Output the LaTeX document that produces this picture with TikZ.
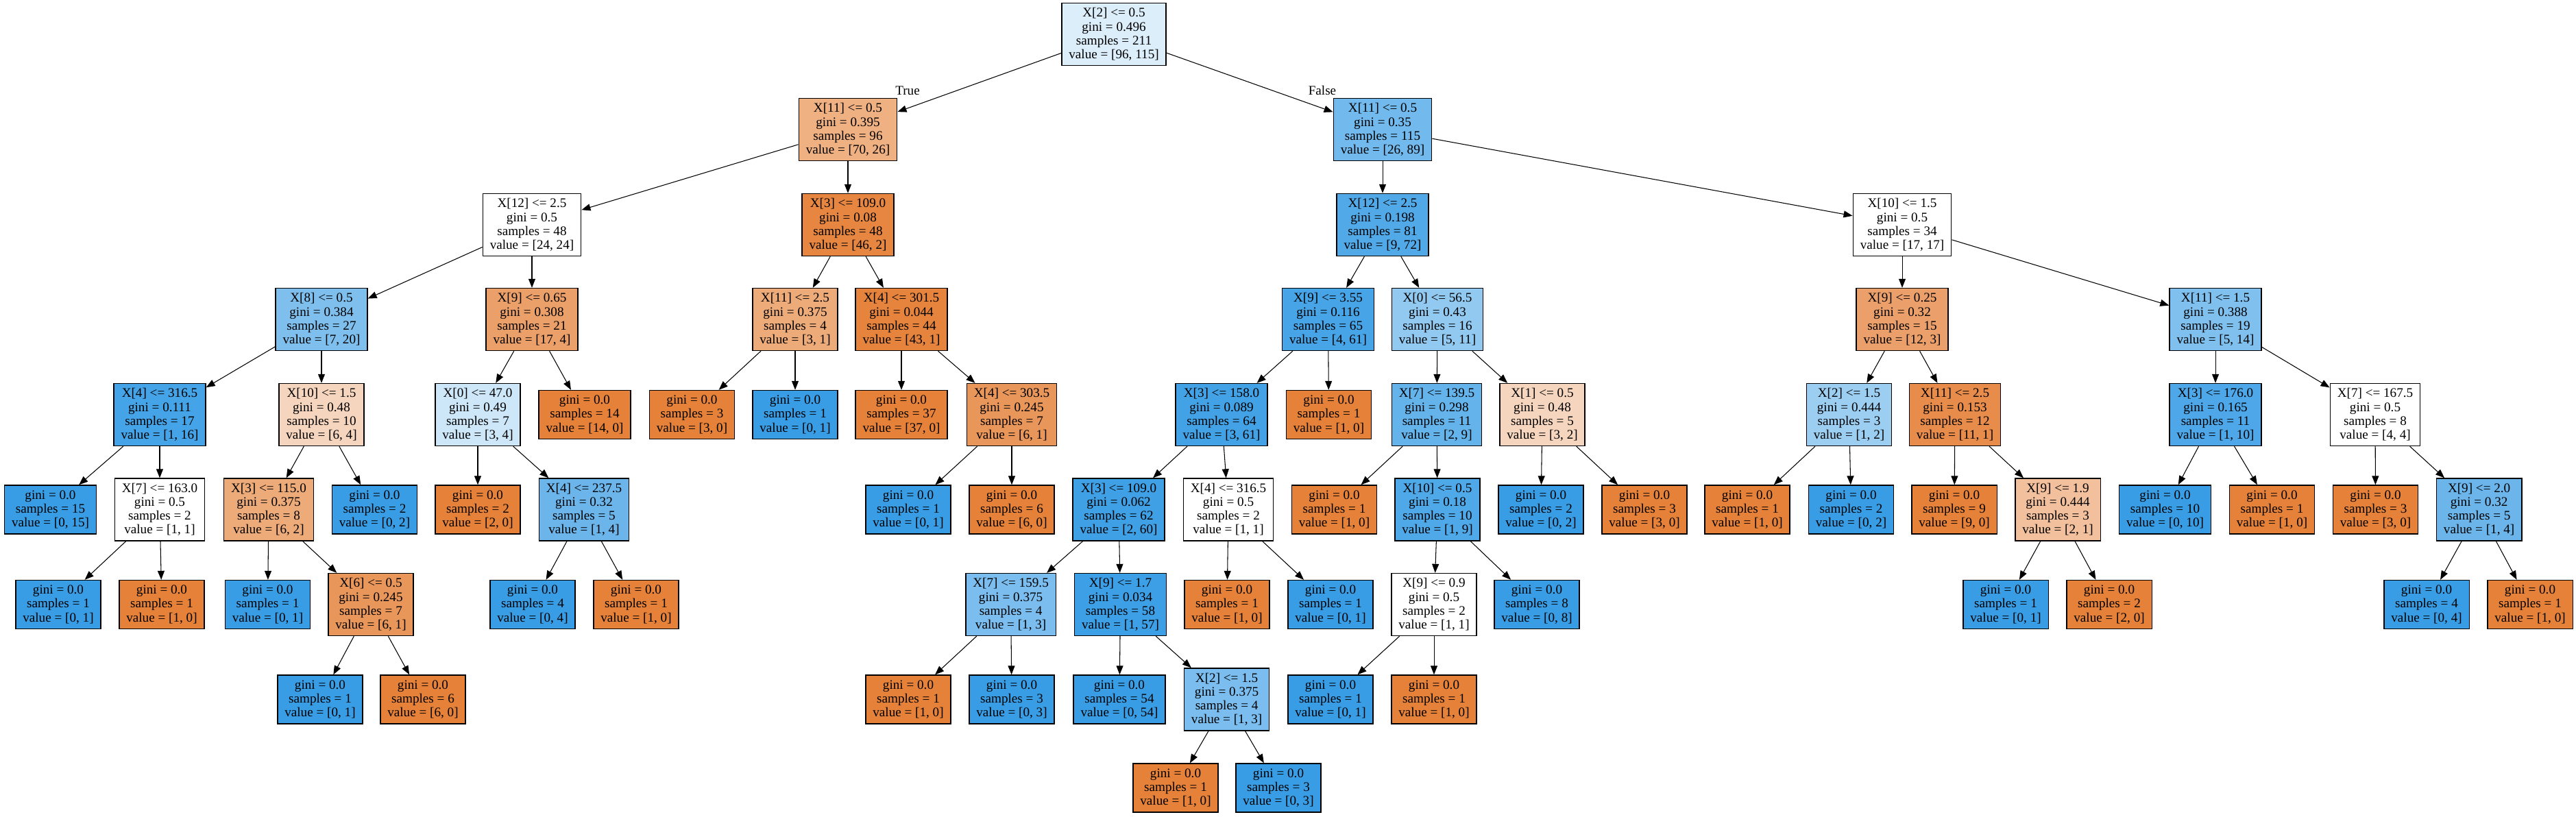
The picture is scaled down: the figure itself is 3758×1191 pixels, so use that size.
\documentclass[tikz,border=0pt]{standalone}
\usepackage{fontspec}
\setmainfont{Liberation Serif}
\usetikzlibrary{arrows.meta}
\definecolor{cO}{RGB}{229,129,57}
\definecolor{cB}{RGB}{57,157,229}
\tikzset{
  split/.style={draw, line width=0.8pt, align=center, inner xsep=0.21cm, inner ysep=0pt, minimum height=1.82cm, font=\fontsize{10.9}{11.5}\selectfont},
  leaf/.style={split, minimum height=1.42cm},
  edge/.style={line width=0.6pt, -{Triangle[length=0.26cm,width=0.2cm]}},
  side/.style={font=\fontsize{10.9}{11.5}\selectfont, inner sep=0pt}
}
\begin{document}
\begin{tikzpicture}[x=0.02cm,y=-0.02cm]
\useasboundingbox (0,0) rectangle (3758,1191);
\node[split,fill=cB!17] (n0) at (1625,50) {X[2] <= 0.5\\gini = 0.496\\samples = 211\\value = [96, 115]};
\node[split,fill=cO!63] (n1) at (1237,189) {X[11] <= 0.5\\gini = 0.395\\samples = 96\\value = [70, 26]};
\node[split,fill=white] (n2) at (776,328) {X[12] <= 2.5\\gini = 0.5\\samples = 48\\value = [24, 24]};
\node[split,fill=cB!65] (n3) at (469,466) {X[8] <= 0.5\\gini = 0.384\\samples = 27\\value = [7, 20]};
\node[split,fill=cB!94] (n4) at (233,605) {X[4] <= 316.5\\gini = 0.111\\samples = 17\\value = [1, 16]};
\node[leaf,fill=cB] (n5) at (73.5,743.5) {gini = 0.0\\samples = 15\\value = [0, 15]};
\node[split,fill=white] (n6) at (233,743.5) {X[7] <= 163.0\\gini = 0.5\\samples = 2\\value = [1, 1]};
\node[leaf,fill=cB] (n7) at (85,882) {gini = 0.0\\samples = 1\\value = [0, 1]};
\node[leaf,fill=cO] (n8) at (236,882) {gini = 0.0\\samples = 1\\value = [1, 0]};
\node[split,fill=cO!33] (n9) at (469,605) {X[10] <= 1.5\\gini = 0.48\\samples = 10\\value = [6, 4]};
\node[split,fill=cO!67] (n10) at (392,743.5) {X[3] <= 115.0\\gini = 0.375\\samples = 8\\value = [6, 2]};
\node[leaf,fill=cB] (n11) at (390.5,882) {gini = 0.0\\samples = 1\\value = [0, 1]};
\node[split,fill=cO!83] (n12) at (541,882) {X[6] <= 0.5\\gini = 0.245\\samples = 7\\value = [6, 1]};
\node[leaf,fill=cB] (n13) at (467,1020.5) {gini = 0.0\\samples = 1\\value = [0, 1]};
\node[leaf,fill=cO] (n14) at (617,1020.5) {gini = 0.0\\samples = 6\\value = [6, 0]};
\node[leaf,fill=cB] (n15) at (546.5,743.5) {gini = 0.0\\samples = 2\\value = [0, 2]};
\node[split,fill=cO!76] (n16) at (776,466) {X[9] <= 0.65\\gini = 0.308\\samples = 21\\value = [17, 4]};
\node[split,fill=cB!25] (n17) at (697,605) {X[0] <= 47.0\\gini = 0.49\\samples = 7\\value = [3, 4]};
\node[leaf,fill=cO] (n18) at (697,743.5) {gini = 0.0\\samples = 2\\value = [2, 0]};
\node[split,fill=cB!75] (n19) at (852,743.5) {X[4] <= 237.5\\gini = 0.32\\samples = 5\\value = [1, 4]};
\node[leaf,fill=cB] (n20) at (777,882) {gini = 0.0\\samples = 4\\value = [0, 4]};
\node[leaf,fill=cO] (n21) at (928,882) {gini = 0.0\\samples = 1\\value = [1, 0]};
\node[leaf,fill=cO] (n22) at (853,605) {gini = 0.0\\samples = 14\\value = [14, 0]};
\node[split,fill=cO!96] (n23) at (1237,328) {X[3] <= 109.0\\gini = 0.08\\samples = 48\\value = [46, 2]};
\node[split,fill=cO!67] (n24) at (1160,466) {X[11] <= 2.5\\gini = 0.375\\samples = 4\\value = [3, 1]};
\node[leaf,fill=cO] (n25) at (1009.5,605) {gini = 0.0\\samples = 3\\value = [3, 0]};
\node[leaf,fill=cB] (n26) at (1160,605) {gini = 0.0\\samples = 1\\value = [0, 1]};
\node[split,fill=cO!98] (n27) at (1315,466) {X[4] <= 301.5\\gini = 0.044\\samples = 44\\value = [43, 1]};
\node[leaf,fill=cO] (n28) at (1315,605) {gini = 0.0\\samples = 37\\value = [37, 0]};
\node[split,fill=cO!83] (n29) at (1476,605) {X[4] <= 303.5\\gini = 0.245\\samples = 7\\value = [6, 1]};
\node[leaf,fill=cB] (n30) at (1325,743.5) {gini = 0.0\\samples = 1\\value = [0, 1]};
\node[leaf,fill=cO] (n31) at (1476,743.5) {gini = 0.0\\samples = 6\\value = [6, 0]};
\node[split,fill=cB!71] (n32) at (2017,189) {X[11] <= 0.5\\gini = 0.35\\samples = 115\\value = [26, 89]};
\node[split,fill=cB!88] (n33) at (2017,328) {X[12] <= 2.5\\gini = 0.198\\samples = 81\\value = [9, 72]};
\node[split,fill=cB!93] (n34) at (1937.5,466) {X[9] <= 3.55\\gini = 0.116\\samples = 65\\value = [4, 61]};
\node[split,fill=cB!95] (n35) at (1782,605) {X[3] <= 158.0\\gini = 0.089\\samples = 64\\value = [3, 61]};
\node[split,fill=cB!97] (n36) at (1632,743.5) {X[3] <= 109.0\\gini = 0.062\\samples = 62\\value = [2, 60]};
\node[split,fill=cB!67] (n37) at (1474.6,882) {X[7] <= 159.5\\gini = 0.375\\samples = 4\\value = [1, 3]};
\node[leaf,fill=cO] (n38) at (1325,1020.5) {gini = 0.0\\samples = 1\\value = [1, 0]};
\node[leaf,fill=cB] (n39) at (1476,1020.5) {gini = 0.0\\samples = 3\\value = [0, 3]};
\node[split,fill=cB!98] (n40) at (1634.5,882) {X[9] <= 1.7\\gini = 0.034\\samples = 58\\value = [1, 57]};
\node[leaf,fill=cB] (n41) at (1633,1020.5) {gini = 0.0\\samples = 54\\value = [0, 54]};
\node[split,fill=cB!67] (n42) at (1789.6,1020.5) {X[2] <= 1.5\\gini = 0.375\\samples = 4\\value = [1, 3]};
\node[leaf,fill=cO] (n43) at (1715,1149.5) {gini = 0.0\\samples = 1\\value = [1, 0]};
\node[leaf,fill=cB] (n44) at (1865,1149.5) {gini = 0.0\\samples = 3\\value = [0, 3]};
\node[split,fill=white] (n45) at (1792,743.5) {X[4] <= 316.5\\gini = 0.5\\samples = 2\\value = [1, 1]};
\node[leaf,fill=cO] (n46) at (1790,882) {gini = 0.0\\samples = 1\\value = [1, 0]};
\node[leaf,fill=cB] (n47) at (1941,882) {gini = 0.0\\samples = 1\\value = [0, 1]};
\node[leaf,fill=cO] (n48) at (1938.5,605) {gini = 0.0\\samples = 1\\value = [1, 0]};
\node[split,fill=cB!55] (n49) at (2097,466) {X[0] <= 56.5\\gini = 0.43\\samples = 16\\value = [5, 11]};
\node[split,fill=cB!78] (n50) at (2096,605) {X[7] <= 139.5\\gini = 0.298\\samples = 11\\value = [2, 9]};
\node[leaf,fill=cO] (n51) at (1946.5,743.5) {gini = 0.0\\samples = 1\\value = [1, 0]};
\node[split,fill=cB!89] (n52) at (2097,743.5) {X[10] <= 0.5\\gini = 0.18\\samples = 10\\value = [1, 9]};
\node[split,fill=white] (n53) at (2092,882) {X[9] <= 0.9\\gini = 0.5\\samples = 2\\value = [1, 1]};
\node[leaf,fill=cB] (n54) at (1941,1020.5) {gini = 0.0\\samples = 1\\value = [0, 1]};
\node[leaf,fill=cO] (n55) at (2092,1020.5) {gini = 0.0\\samples = 1\\value = [1, 0]};
\node[leaf,fill=cB] (n56) at (2242,882) {gini = 0.0\\samples = 8\\value = [0, 8]};
\node[split,fill=cO!33] (n57) at (2250,605) {X[1] <= 0.5\\gini = 0.48\\samples = 5\\value = [3, 2]};
\node[leaf,fill=cB] (n58) at (2248,743.5) {gini = 0.0\\samples = 2\\value = [0, 2]};
\node[leaf,fill=cO] (n59) at (2399,743.5) {gini = 0.0\\samples = 3\\value = [3, 0]};
\node[split,fill=white] (n60) at (2775,328) {X[10] <= 1.5\\gini = 0.5\\samples = 34\\value = [17, 17]};
\node[split,fill=cO!75] (n61) at (2775,466) {X[9] <= 0.25\\gini = 0.32\\samples = 15\\value = [12, 3]};
\node[split,fill=cB!50] (n62) at (2697.5,605) {X[2] <= 1.5\\gini = 0.444\\samples = 3\\value = [1, 2]};
\node[leaf,fill=cO] (n63) at (2549,743.5) {gini = 0.0\\samples = 1\\value = [1, 0]};
\node[leaf,fill=cB] (n64) at (2700.5,743.5) {gini = 0.0\\samples = 2\\value = [0, 2]};
\node[split,fill=cO!91] (n65) at (2852,605) {X[11] <= 2.5\\gini = 0.153\\samples = 12\\value = [11, 1]};
\node[leaf,fill=cO] (n66) at (2851,743.5) {gini = 0.0\\samples = 9\\value = [9, 0]};
\node[split,fill=cO!50] (n67) at (3002,743.5) {X[9] <= 1.9\\gini = 0.444\\samples = 3\\value = [2, 1]};
\node[leaf,fill=cB] (n68) at (2926,882) {gini = 0.0\\samples = 1\\value = [0, 1]};
\node[leaf,fill=cO] (n69) at (3077,882) {gini = 0.0\\samples = 2\\value = [2, 0]};
\node[split,fill=cB!64] (n70) at (3232,466) {X[11] <= 1.5\\gini = 0.388\\samples = 19\\value = [5, 14]};
\node[split,fill=cB!90] (n71) at (3232,605) {X[3] <= 176.0\\gini = 0.165\\samples = 11\\value = [1, 10]};
\node[leaf,fill=cB] (n72) at (3158.5,743.5) {gini = 0.0\\samples = 10\\value = [0, 10]};
\node[leaf,fill=cO] (n73) at (3314.5,743.5) {gini = 0.0\\samples = 1\\value = [1, 0]};
\node[split,fill=white] (n74) at (3465,605) {X[7] <= 167.5\\gini = 0.5\\samples = 8\\value = [4, 4]};
\node[leaf,fill=cO] (n75) at (3465.5,743.5) {gini = 0.0\\samples = 3\\value = [3, 0]};
\node[split,fill=cB!75] (n76) at (3616.6,743.5) {X[9] <= 2.0\\gini = 0.32\\samples = 5\\value = [1, 4]};
\node[leaf,fill=cB] (n77) at (3540,882) {gini = 0.0\\samples = 4\\value = [0, 4]};
\node[leaf,fill=cO] (n78) at (3691,882) {gini = 0.0\\samples = 1\\value = [1, 0]};
\node[side] (lt) at (1324,132) {True};
\node[side] (lf) at (1929,132) {False};
\draw[edge] (n0) -- (n1); \draw[edge] (n0) -- (n32);
\draw[edge] (n1) -- (n2); \draw[edge] (n1) -- (n23);
\draw[edge] (n2) -- (n3); \draw[edge] (n2) -- (n16);
\draw[edge] (n3) -- (n4); \draw[edge] (n3) -- (n9);
\draw[edge] (n4) -- (n5); \draw[edge] (n4) -- (n6);
\draw[edge] (n6) -- (n7); \draw[edge] (n6) -- (n8);
\draw[edge] (n9) -- (n10); \draw[edge] (n9) -- (n15);
\draw[edge] (n10) -- (n11); \draw[edge] (n10) -- (n12);
\draw[edge] (n12) -- (n13); \draw[edge] (n12) -- (n14);
\draw[edge] (n16) -- (n17); \draw[edge] (n16) -- (n22);
\draw[edge] (n17) -- (n18); \draw[edge] (n17) -- (n19);
\draw[edge] (n19) -- (n20); \draw[edge] (n19) -- (n21);
\draw[edge] (n23) -- (n24); \draw[edge] (n23) -- (n27);
\draw[edge] (n24) -- (n25); \draw[edge] (n24) -- (n26);
\draw[edge] (n27) -- (n28); \draw[edge] (n27) -- (n29);
\draw[edge] (n29) -- (n30); \draw[edge] (n29) -- (n31);
\draw[edge] (n32) -- (n33); \draw[edge] (n32) -- (n60);
\draw[edge] (n33) -- (n34); \draw[edge] (n33) -- (n49);
\draw[edge] (n34) -- (n35); \draw[edge] (n34) -- (n48);
\draw[edge] (n35) -- (n36); \draw[edge] (n35) -- (n45);
\draw[edge] (n36) -- (n37); \draw[edge] (n36) -- (n40);
\draw[edge] (n37) -- (n38); \draw[edge] (n37) -- (n39);
\draw[edge] (n40) -- (n41); \draw[edge] (n40) -- (n42);
\draw[edge] (n42) -- (n43); \draw[edge] (n42) -- (n44);
\draw[edge] (n45) -- (n46); \draw[edge] (n45) -- (n47);
\draw[edge] (n49) -- (n50); \draw[edge] (n49) -- (n57);
\draw[edge] (n50) -- (n51); \draw[edge] (n50) -- (n52);
\draw[edge] (n52) -- (n53); \draw[edge] (n52) -- (n56);
\draw[edge] (n53) -- (n54); \draw[edge] (n53) -- (n55);
\draw[edge] (n57) -- (n58); \draw[edge] (n57) -- (n59);
\draw[edge] (n60) -- (n61); \draw[edge] (n60) -- (n70);
\draw[edge] (n61) -- (n62); \draw[edge] (n61) -- (n65);
\draw[edge] (n62) -- (n63); \draw[edge] (n62) -- (n64);
\draw[edge] (n65) -- (n66); \draw[edge] (n65) -- (n67);
\draw[edge] (n67) -- (n68); \draw[edge] (n67) -- (n69);
\draw[edge] (n70) -- (n71); \draw[edge] (n70) -- (n74);
\draw[edge] (n71) -- (n72); \draw[edge] (n71) -- (n73);
\draw[edge] (n74) -- (n75); \draw[edge] (n74) -- (n76);
\draw[edge] (n76) -- (n77); \draw[edge] (n76) -- (n78);
\end{tikzpicture}
\end{document}
